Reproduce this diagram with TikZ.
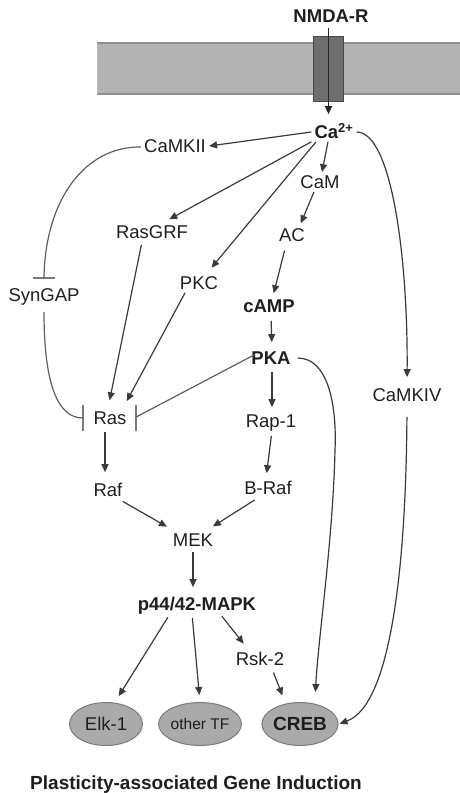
\documentclass[tikz,border=0pt]{standalone}
\usepackage{fontspec}
\setmainfont{Liberation Sans}
\usetikzlibrary{arrows.meta,shapes.geometric}
\definecolor{txt}{HTML}{1E1E1E}
\definecolor{ln}{HTML}{3A3A3A}
\definecolor{inhc}{HTML}{5E5E5E}
\definecolor{barc}{HTML}{7A7A7A}
\definecolor{memb}{HTML}{B3B3B3}
\definecolor{membedge}{HTML}{8E8E8E}
\definecolor{chanfill}{HTML}{6E6E6E}
\definecolor{chanedge}{HTML}{484848}
\definecolor{tf}{HTML}{AAAAAA}
\definecolor{tfedge}{HTML}{7A7A7A}
\begin{document}
\begin{tikzpicture}[x=1pt,y=-1pt,
  lbl/.style={font=\fontsize{18.5}{22}\selectfont, text=txt, text height=13.3pt, text depth=0pt, inner sep=3pt},
  blbl/.style={lbl, font=\fontsize{18.5}{22}\selectfont\bfseries},
  tfnode/.style={ellipse, fill=tf, draw=tfedge, line width=1pt, minimum width=73pt, minimum height=43pt, inner sep=0pt, text=txt, text height=13.3pt, text depth=0pt},
  arr/.style={draw=ln, line width=1.2pt, -{Triangle[length=8pt,width=7pt]}},
  inhline/.style={draw=inhc, line width=1.2pt},
  barline/.style={draw=barc, line width=1.6pt}
]
\useasboundingbox (0,0) rectangle (460,793);

% membrane
\fill[memb] (97,43) rectangle (460,94);
\draw[membedge, line width=1.2pt] (97,43) -- (460,43) (97,94) -- (460,94);
\draw[membedge!60, line width=0.8pt] (97,43) -- (97,94);
\node[draw=chanedge, fill=chanfill, minimum width=30pt, minimum height=65pt, inner sep=0pt, line width=1pt] (chan) at (328.5,68.5) {};

% nodes
\node[blbl] (NMDA) at (331,16) {NMDA-R};
\node[blbl] (Ca) at (334,132) {Ca\textsuperscript{2+}};
\node[lbl] (CaMKII) at (175,146) {CaMKII};
\node[lbl] (CaM) at (320,182) {CaM};
\node[lbl] (RasGRF) at (152,232) {RasGRF};
\node[lbl] (AC) at (292,235) {AC};
\node[lbl] (PKC) at (199,283) {PKC};
\node[lbl] (SynGAP) at (44,295) {SynGAP};
\node[blbl] (cAMP) at (269,306) {cAMP};
\node[blbl] (PKA) at (271,358) {PKA};
\node[lbl] (Ras) at (110,418) {Ras};
\node[lbl] (Rap) at (271,421) {Rap-1};
\node[lbl] (CaMKIV) at (407,395) {CaMKIV};
\node[lbl] (Raf) at (108,490) {Raf};
\node[lbl] (BRaf) at (268,488) {B-Raf};
\node[lbl] (MEK) at (193,540) {MEK};
\node[blbl] (MAPK) at (197,604) {p44/42-MAPK};
\node[lbl] (Rsk) at (260,659) {Rsk-2};
\node[tfnode, font=\fontsize{18.5}{22}\selectfont] (Elk) at (106,724) {Elk-1};
\node[tfnode, font=\fontsize{15.5}{18}\selectfont, text height=11pt] (other) at (200,724) {other TF};
\node[tfnode, font=\fontsize{19}{22}\selectfont\bfseries] (CREB) at (300,724) {CREB};
\node[blbl, font=\fontsize{19}{22}\selectfont\bfseries] (title) at (196,783) {Plasticity-associated Gene Induction};

% inhibition bar positions
\coordinate (SynTop) at ([yshift=7pt]SynGAP.north);
\coordinate (RasL) at ([xshift=-7.5pt]Ras.west);
\coordinate (RasR) at ([xshift=6.5pt]Ras.east);
\draw[barline] ([xshift=-11pt]SynTop) -- ([xshift=11pt]SynTop);
\draw[barline] ([yshift=13pt]RasL) -- ([yshift=-13pt]RasL);
\draw[barline] ([yshift=13pt]RasR) -- ([yshift=-13pt]RasR);

% receptor
\draw[arr, draw=black!85, shorten >=8pt, shorten <=2pt] (NMDA.south -| chan.center) -- (Ca.north -| chan.center);

% from Ca2+
\draw[arr] (Ca.west) -- (CaMKII.east);
\draw[arr] ([xshift=-6pt]Ca.south) -- ([xshift=2pt]CaM.north);
\draw[arr, shorten >=6pt] (Ca.south west) -- ([xshift=12pt]RasGRF.north);
\draw[arr, shorten >=7pt] ([xshift=-18pt]Ca.south) -- ([xshift=8pt]PKC.north);
\draw[arr, shorten >=8pt] (Ca.east) .. controls (392,132) and (408,260) .. (CaMKIV.north);

% cAMP pathway
\draw[arr, shorten >=2pt] ([xshift=-6pt]CaM.south) -- ([xshift=8pt]AC.north);
\draw[arr, shorten >=3pt, shorten <=6pt] ([xshift=-6pt]AC.south) -- ([xshift=4pt]cAMP.north);
\draw[arr, shorten >=6pt, shorten <=5pt] ([xshift=2pt]cAMP.south) -- ([xshift=1pt]PKA.north);
\draw[arr, shorten >=4pt, shorten <=4pt] ([xshift=1pt]PKA.south) -- ([xshift=1pt]Rap.north);
\draw[arr, shorten >=5pt, shorten <=5pt] ([xshift=1pt]Rap.south) -- ([xshift=-2pt]BRaf.north);

% Ras module
\draw[inhline] ([yshift=-1pt]CaMKII.west) .. controls (85,146) and (45,200) .. (SynTop);
\draw[inhline, shorten <=7pt] (SynGAP.south) .. controls (44,385) and (58,418) .. (RasL);
\draw[inhline, shorten <=-7pt] (PKA.west) -- ([yshift=1pt]RasR);
\draw[arr, shorten >=8pt, shorten <=3pt] ([xshift=-10pt]RasGRF.south) -- ([xshift=-2pt]Ras.north);
\draw[arr, shorten >=8pt] ([xshift=-14pt]PKC.south) -- ([xshift=13pt]Ras.north);
\draw[arr, shorten >=8pt, shorten <=4pt] ([xshift=-5pt]Ras.south) -- ([xshift=-3pt]Raf.north);

% MAPK cascade
\draw[arr, shorten >=7pt, shorten <=3pt] ([xshift=12pt]Raf.south) -- ([xshift=-20pt]MEK.north);
\draw[arr, shorten >=7pt, shorten <=4pt] ([xshift=-10pt]BRaf.south) -- ([xshift=14pt]MEK.north);
\draw[arr, shorten >=7pt, shorten <=2pt] (MEK.south) -- (MEK.south |- MAPK.north);
\draw[arr, shorten >=7pt, shorten <=4pt] ([xshift=-27pt]MAPK.south) -- ([xshift=9pt]Elk.north);
\draw[arr, shorten >=7pt, shorten <=4pt] ([xshift=-5pt]MAPK.south) -- (other.north);
\draw[arr, shorten >=7pt, shorten <=3pt] ([xshift=23pt]MAPK.south) -- ([xshift=-12pt]Rsk.north);
\draw[arr, shorten >=7pt, shorten <=4pt] ([xshift=12pt]Rsk.south) -- ([xshift=-15pt]CREB.north);

% to CREB
\draw[arr, shorten <=4pt, shorten >=10pt] (PKA.east) .. controls (328,358) and (337,405) .. (335,450) .. controls (333,540) and (318,640) .. ([xshift=15pt]CREB.north);
\draw[arr, shorten <=12pt, shorten >=1pt] (CaMKIV.south) .. controls (406,560) and (392,705) .. (CREB.east);
\end{tikzpicture}
\end{document}
